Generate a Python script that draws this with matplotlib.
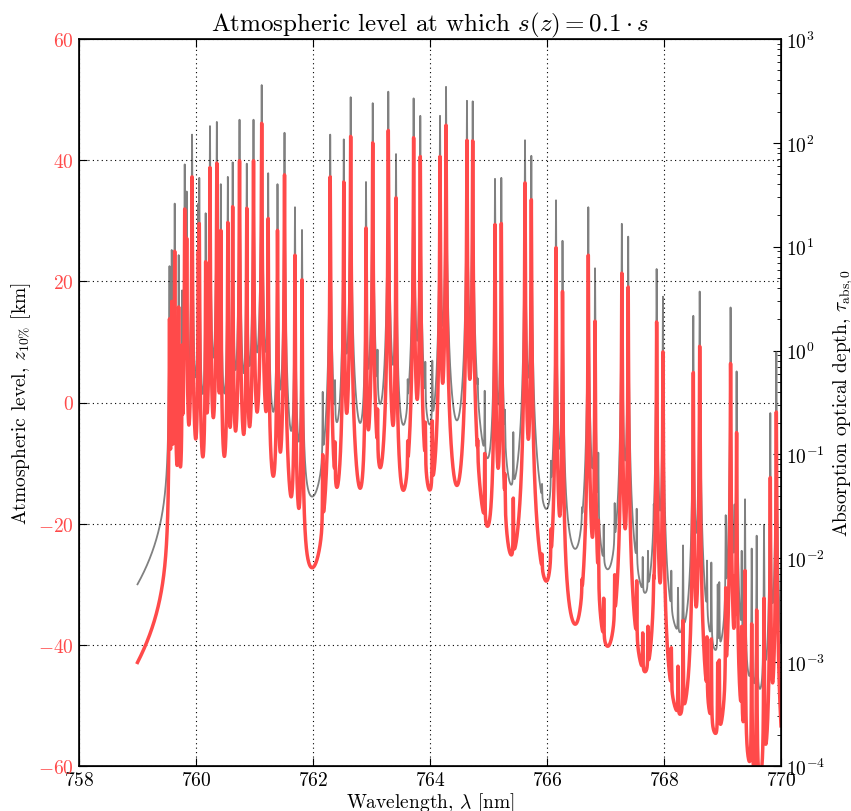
import numpy as np
import matplotlib
matplotlib.use("Agg")
import matplotlib.pyplot as plt
from matplotlib.ticker import LogLocator

plt.rcParams['font.family'] = 'serif'
plt.rcParams['font.serif'] = ['cmr10', 'DejaVu Serif']
plt.rcParams['mathtext.fontset'] = 'cm'
plt.rcParams['axes.formatter.use_mathtext'] = True
plt.rcParams['axes.unicode_minus'] = True
plt.rcParams['font.size'] = 14
plt.rcParams['xtick.direction'] = 'in'
plt.rcParams['ytick.direction'] = 'in'

# line centres [nm] and peak optical depth
line_nm = [759.547, 759.585, 759.636, 759.704, 759.764, 759.807, 759.841, 759.932,
           760.040, 760.056, 760.165, 760.239, 760.356, 760.424, 760.544, 760.627,
           760.744, 760.868, 760.983, 761.123, 761.234, 761.393, 761.513, 761.692,
           761.812,
           762.166, 762.294, 762.376, 762.456, 762.526, 762.644, 762.735, 762.906,
           763.021, 763.103, 763.210, 763.287, 763.419, 763.619, 763.720, 763.834,
           763.920, 764.039, 764.171, 764.274, 764.342, 764.484, 764.632, 764.730,
           764.815, 764.935, 765.111, 765.219, 765.280, 765.424, 765.624, 765.732,
           765.915, 766.068, 766.154, 766.265, 766.598, 766.706, 766.821, 766.877,
           766.969, 767.157, 767.279, 767.388, 767.533, 767.636, 767.726, 767.824,
           767.874, 767.982, 768.125, 768.239, 768.325, 768.501, 768.610, 768.735,
           768.809, 768.918, 768.945, 769.055, 769.138, 769.207, 769.241, 769.328,
           769.385, 769.499, 769.584, 769.709, 769.817, 769.920]
peak_tau = [6.5, 9.3, 26, 8.3, 3.8, 62, 34, 120,
            26, 46, 21, 145, 159, 40, 47, 65,
            167, 63, 167, 360, 51, 40, 125, 24,
            14.5,
            0.40, 120, 0.52, 0.29, 108, 275, 0.32, 42,
            241, 1.02, 0.34, 311, 78, 0.53, 268, 182,
            0.78, 0.80, 182, 346, 0.34, 0.18, 254, 251,
            0.54, 0.41, 45, 46, 0.27, 0.164, 106, 75,
            0.052, 0.087, 28, 11.4, 0.031, 24, 6.2, 0.104,
            0.021, 0.034, 16.6, 12.5, 0.030, 0.0103, 0.0118, 0.033,
            6.1, 3.3, 0.0076, 0.0052, 0.0133, 2.16, 3.7, 0.0095,
            0.0091, 0.0056, 0.0059, 0.026, 2.6, 0.033, 0.63, 0.0118,
            0.037, 0.0124, 0.0165, 0.021, 0.25, 0.96]

line_width_nm = 0.003         # Lorentz half width
far_wing_nm = 2.5             # far-wing fall-off of each line
red_slope, red_offset = 1.08, -10.5   # z10% vs grey level
lam_min, lam_max = 759.0, 770.0

lc = np.array(line_nm)
target = np.array(peak_tau)


def profile(lam, c):
    d = lam[:, None] - c[None, :]
    return line_width_nm**2 / (d**2 + line_width_nm**2) * np.exp(-np.abs(d) / far_wing_nm)


# strengths so that the summed profile hits the read peak values
A = profile(lc, lc)
S = target.copy()
for it in range(300):
    wings = A @ S - S
    S = np.maximum(target - wings, 0.0)

lam = np.union1d(np.linspace(lam_min, lam_max, 30000), lc)
tau = profile(lam, lc) @ S

z_grey = (np.log10(tau) + 4) * 120.0 / 7.0 - 60.0
z_red = red_slope * z_grey + red_offset

fig = plt.figure(figsize=(8.51, 8.12), dpi=100)
ax = fig.add_axes([79/851, 1 - 767/812, 702/851, 727/812])
ax2 = ax.twinx()

ax2.semilogy(lam, tau, color='#808080', lw=1.3)
ax2.set_ylim(1e-4, 1e3)
ax2.yaxis.set_major_locator(LogLocator(base=10, numticks=10))
ax2.yaxis.set_minor_locator(LogLocator(base=10, subs=np.arange(2, 10), numticks=20))
ax2.tick_params(which='major', length=6, labelsize=14)
ax2.tick_params(which='minor', length=3)
ax2.set_ylabel(r'Absorption optical depth, $\tau_{\mathrm{abs},0}$', fontsize=14, labelpad=4)

ax.plot(lam, z_red, color='#ff4a4a', lw=2.5)
ax.set_zorder(ax2.get_zorder() + 1)
ax.patch.set_visible(False)
ax.set_xlim(758, 770)
ax.set_ylim(-60, 60)
ax.set_xticks(np.arange(758, 771, 2))
ax.set_yticks(np.arange(-60, 61, 20))
ax.tick_params(axis='y', colors='#ff4a4a', labelsize=14, length=6)
ax.tick_params(axis='y', which='both', color='k')
ax.tick_params(axis='x', top=True, labelsize=14, length=6)
ax.grid(True, color='k', linestyle=(0, (1, 3)), lw=0.8)
for sp in ax.spines.values():
    sp.set_linewidth(1.2)

ax.set_xlabel(r'Wavelength, $\lambda$ [nm]', fontsize=14, labelpad=1)
ax.set_ylabel(r'Atmospheric level, $z_{10\%}$ [km]', fontsize=14)
ax.set_title(r'Atmospheric level at which $s(z) = 0.1 \cdot s$', fontsize=18, pad=6)

fig.savefig('out.png', dpi=100)
